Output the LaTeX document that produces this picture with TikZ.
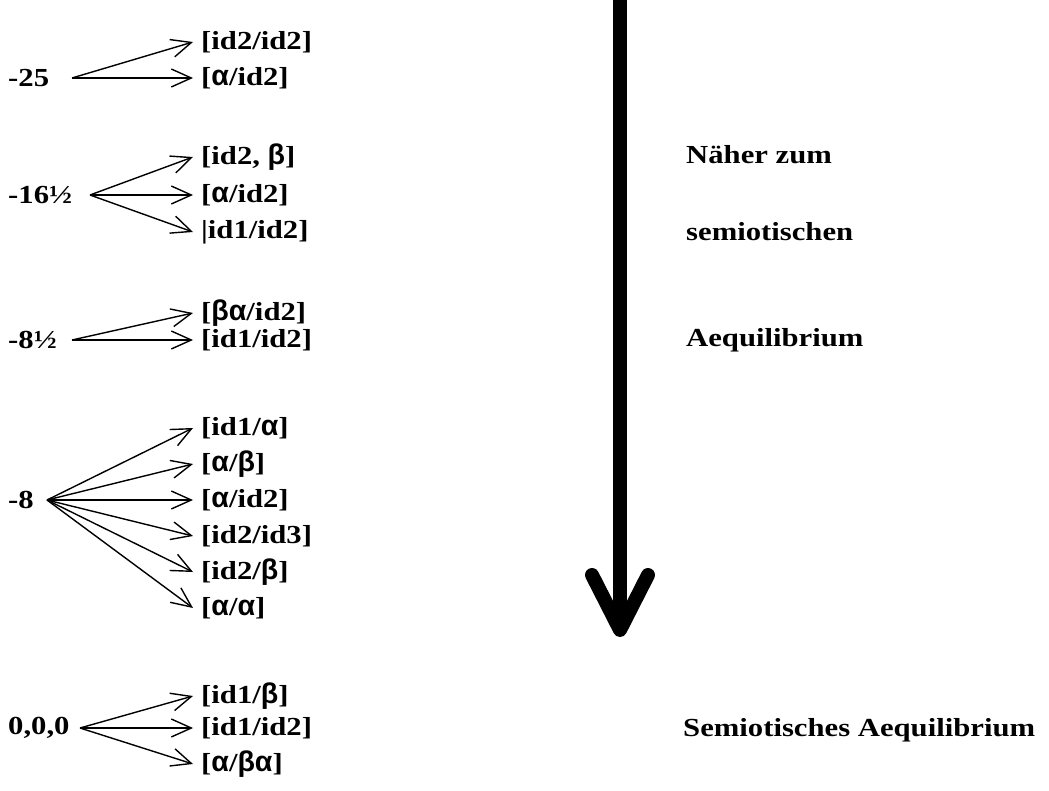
\documentclass[tikz,border=0pt]{standalone}
\usepackage{fontspec}
\setmainfont{Liberation Serif}[FakeStretch=1.18]
\newfontfamily\gr{Liberation Sans}[Scale=1.1]
\usetikzlibrary{arrows.meta}
\newcommand{\al}{{\gr α}}
\newcommand{\be}{{\gr β}}
\begin{document}
\begin{tikzpicture}[x=1pt,y=-1pt,
  every node/.style={font=\fontsize{26}{30}\selectfont\bfseries, inner sep=0pt},
  lbl/.style={anchor=west},
  arr/.style={-{Straight Barb[length=20pt,width=18pt]}, line width=1.4pt},
  big/.style={line width=14pt}]
\useasboundingbox (0,0) rectangle (1049,791);

% group -25
\node[lbl] (s1) at (8,78) {-25};
\coordinate (o1) at (72,78);
\node[lbl] (t11) at (201,42) {[id2/id2]};
\node[lbl] (t12) at (201,78) {[\al/id2]};
\foreach \t in {t11,t12} \draw[arr] (o1) -- ([xshift=-8pt]\t.west);

% group -16 1/2
\node[lbl] (s2) at (8,195) {-16½};
\coordinate (o2) at (90,195);
\node[lbl] (t21) at (201,157) {[id2, \be]};
\node[lbl] (t22) at (201,195) {[\al/id2]};
\node[lbl] (t23) at (201,232) {|id1/id2]};
\foreach \t in {t21,t22,t23} \draw[arr] (o2) -- ([xshift=-8pt]\t.west);

% group -8 1/2
\node[lbl] (s3) at (8,340) {-8½};
\coordinate (o3) at (72,340);
\node[lbl] (t31) at (201,313) {[\be\al/id2]};
\node[lbl] (t32) at (201,340) {[id1/id2]};
\foreach \t in {t31,t32} \draw[arr] (o3) -- ([xshift=-8pt]\t.west);

% group -8
\node[lbl] (s4) at (8,500) {-8};
\coordinate (o4) at (47,500);
\node[lbl] (t41) at (201,428) {[id1/\al]};
\node[lbl] (t42) at (201,464) {[\al/\be]};
\node[lbl] (t43) at (201,500) {[\al/id2]};
\node[lbl] (t44) at (201,536) {[id2/id3]};
\node[lbl] (t45) at (201,572) {[id2/\be]};
\node[lbl] (t46) at (201,608) {[\al/\al]};
\foreach \t in {t41,t42,t43,t44,t45,t46} \draw[arr] (o4) -- ([xshift=-8pt]\t.west);

% group 0,0,0
\node[lbl] (s5) at (8,728) {0,0,0};
\coordinate (o5) at (80,728);
\node[lbl] (t51) at (201,696) {[id1/\be]};
\node[lbl] (t52) at (201,728) {[id1/id2]};
\node[lbl] (t53) at (201,764) {[\al/\be\al]};
\foreach \t in {t51,t52,t53} \draw[arr] (o5) -- ([xshift=-8pt]\t.west);

% right column
\node[lbl] (r1) at (686,155) {Näher zum};
\node[lbl] (r2) at (686,232) {semiotischen};
\node[lbl] (r3) at (686,340) {Aequilibrium};
\node[lbl] (r4) at (683,730) {Semiotisches Aequilibrium};

% heavy downward arrow
\coordinate (top) at (620,0);
\coordinate (tip) at (620,630);
\coordinate (lw) at (592,575);
\coordinate (rw) at (648,575);
\draw[big] (top) -- (tip);
\draw[big, line cap=round, line join=round] (lw) -- (tip) -- (rw);
\end{tikzpicture}
\end{document}
